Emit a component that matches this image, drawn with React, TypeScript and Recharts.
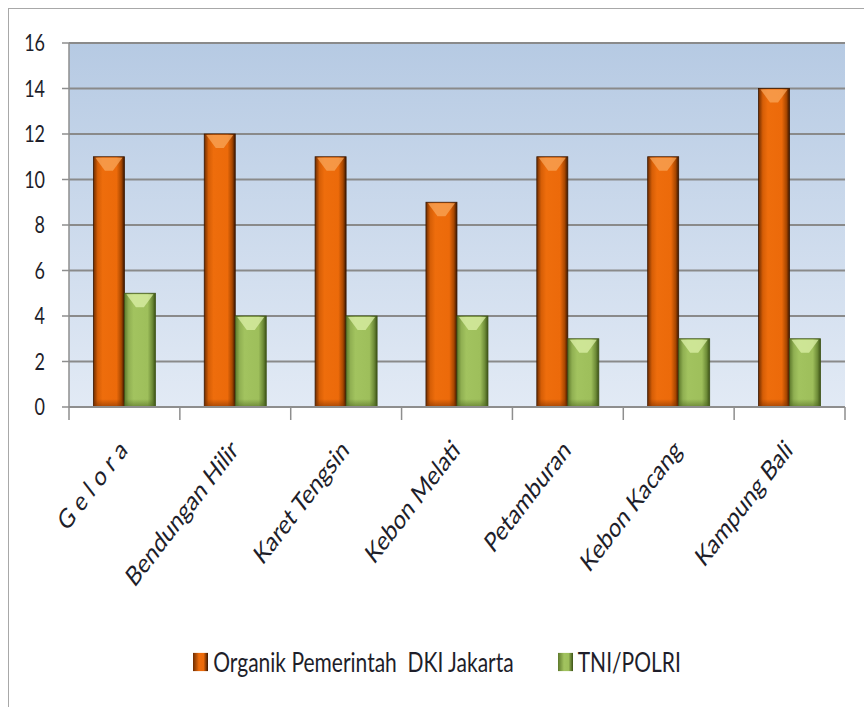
import { BarChart, Bar, XAxis, YAxis, CartesianGrid } from "recharts"

const kelurahan = [
  "G e l o r a",
  "Bendungan Hilir",
  "Karet Tengsin",
  "Kebon Melati",
  "Petamburan",
  "Kebon Kacang",
  "Kampung Bali",
]
const organik = [11, 12, 11, 9, 11, 11, 14]
const tniPolri = [5, 4, 4, 4, 3, 3, 3]
const yTicks = [0, 2, 4, 6, 8, 10, 12, 14, 16]

const seriesNames = ["Organik Pemerintah  DKI Jakarta", "TNI/POLRI"]

const data = kelurahan.map((name, i) => ({
  name,
  organik: organik[i],
  tni: tniPolri[i],
}))

const FONT = "Lato, 'Open Sans', sans-serif"
const STRETCH = 1.3
const HALF_BAND = 776 / 7 / 2

const YTick = (props: any) => {
  const { x, y, payload } = props
  return (
    <g transform={`translate(${x},${y}) scale(1,${STRETCH})`}>
      <text textAnchor="end" dy="0.35em" fontSize={18} fontFamily={FONT} fill="#1e1e2a">
        {payload.value}
      </text>
    </g>
  )
}

const XTick = (props: any) => {
  const { x, y, payload, index } = props
  return (
    <g>
      <line x1={x - HALF_BAND} y1={y} x2={x - HALF_BAND} y2={y + 13} stroke="#8e8e8e" strokeWidth={1.5} />
      {index === kelurahan.length - 1 && (
        <line x1={x + HALF_BAND} y1={y} x2={x + HALF_BAND} y2={y + 13} stroke="#8e8e8e" strokeWidth={1.5} />
      )}
      <g transform={`translate(${x - 1},${y + 38}) scale(1,${STRETCH}) rotate(-45)`}>
        <text textAnchor="end" dy="0.35em" fontSize={21} fontFamily={FONT} fill="#1e1e2a">
          {payload.value}
        </text>
      </g>
    </g>
  )
}

const BevelBar = (props: any) => {
  const { x, y, width, height, kind } = props
  if (!height || height <= 0) return null
  const edge = kind === "org" ? "#3b1800" : "#3f5418"
  const cap = kind === "org" ? "#f8a55a" : "#dcf0a8"
  const d = Math.min(10, height / 3)
  return (
    <g>
      <rect x={x} y={y} width={width} height={height} fill={`url(#${kind}H)`} stroke={edge} strokeWidth={0.8} />
      <polygon
        points={`${x + 2},${y + 1} ${x + width - 2},${y + 1} ${x + width / 2 + 4},${y + d + 4} ${x + width / 2 - 4},${y + d + 4}`}
        fill={cap}
        opacity={0.75}
      />
      <rect x={x} y={y + height - 8} width={width} height={8} fill={`url(#${kind}B)`} />
    </g>
  )
}

export default function App() {
  return (
    <div
      style={{
        position: "absolute",
        left: 8,
        top: 8,
        width: 856,
        height: 699,
        borderLeft: "1px solid #a8a8a8",
        borderTop: "1px solid #a8a8a8",
        boxSizing: "border-box",
        background: "#fff",
      }}
    >
      <BarChart
        width={855}
        height={698}
        data={data}
        margin={{ top: 34, right: 19, bottom: 0, left: 0 }}
        barGap={0}
        barCategoryGap="22%"
      >
        <defs>
          <linearGradient id="plotBg" x1="0" y1="0" x2="0" y2="1">
            <stop offset="0%" stopColor="#b6cae3" />
            <stop offset="100%" stopColor="#e2eaf5" />
          </linearGradient>
          <linearGradient id="orgH" x1="0" y1="0" x2="1" y2="0">
            <stop offset="0%" stopColor="#6e2c00" />
            <stop offset="14%" stopColor="#d65e06" />
            <stop offset="30%" stopColor="#ee6d0c" />
            <stop offset="75%" stopColor="#ec6a0a" />
            <stop offset="90%" stopColor="#a84700" />
            <stop offset="100%" stopColor="#3a1600" />
          </linearGradient>
          <linearGradient id="orgB" x1="0" y1="0" x2="0" y2="1">
            <stop offset="0%" stopColor="#7a3000" stopOpacity={0} />
            <stop offset="100%" stopColor="#7a3000" stopOpacity={0.6} />
          </linearGradient>
          <linearGradient id="tniH" x1="0" y1="0" x2="1" y2="0">
            <stop offset="0%" stopColor="#5e7a2c" />
            <stop offset="14%" stopColor="#90b052" />
            <stop offset="30%" stopColor="#a2c35f" />
            <stop offset="75%" stopColor="#9ebf5b" />
            <stop offset="90%" stopColor="#6e8c38" />
            <stop offset="100%" stopColor="#3c5216" />
          </linearGradient>
          <linearGradient id="tniB" x1="0" y1="0" x2="0" y2="1">
            <stop offset="0%" stopColor="#4d6620" stopOpacity={0} />
            <stop offset="100%" stopColor="#4d6620" stopOpacity={0.6} />
          </linearGradient>
        </defs>
        <CartesianGrid vertical={false} fill="url(#plotBg)" stroke="#8a8a8a" strokeWidth={2} />
        <XAxis
          dataKey="name"
          interval={0}
          height={300}
          tickLine={false}
          tickSize={0}
          tickMargin={0}
          axisLine={{ stroke: "#8e8e8e", strokeWidth: 2 }}
          tick={<XTick />}
        />
        <YAxis
          width={60}
          domain={[0, 16]}
          ticks={yTicks}
          interval={0}
          tickSize={7}
          tickMargin={17}
          axisLine={{ stroke: "#8e8e8e", strokeWidth: 1.5 }}
          tickLine={{ stroke: "#8e8e8e", strokeWidth: 1.5 }}
          tick={<YTick />}
        />
        <Bar dataKey="organik" name={seriesNames[0]} isAnimationActive={false} shape={<BevelBar kind="org" />} />
        <Bar dataKey="tni" name={seriesNames[1]} isAnimationActive={false} shape={<BevelBar kind="tni" />} />
      </BarChart>
      <div
        style={{
          position: "absolute",
          left: 0,
          top: 640,
          width: 856,
          display: "flex",
          justifyContent: "center",
          gap: 44,
          fontFamily: FONT,
          fontSize: 21,
          color: "#1e1e2a",
          transform: `scaleY(${STRETCH})`,
          transformOrigin: "center",
          lineHeight: "26px",
        }}
      >
        {seriesNames.map((n, i) => (
          <div key={n} style={{ display: "flex", alignItems: "center", gap: 5 }}>
            <span
              style={{
                display: "inline-block",
                width: 15,
                height: 14,
                background:
                  i === 0
                    ? "linear-gradient(90deg,#6e2c00,#ee6d0c 40%,#ec6a0a 70%,#3a1600)"
                    : "linear-gradient(90deg,#5e7a2c,#a2c35f 40%,#9ebf5b 70%,#3c5216)",
              }}
            />
            <span style={{ whiteSpace: "pre" }}>{n}</span>
          </div>
        ))}
      </div>
    </div>
  )
}
